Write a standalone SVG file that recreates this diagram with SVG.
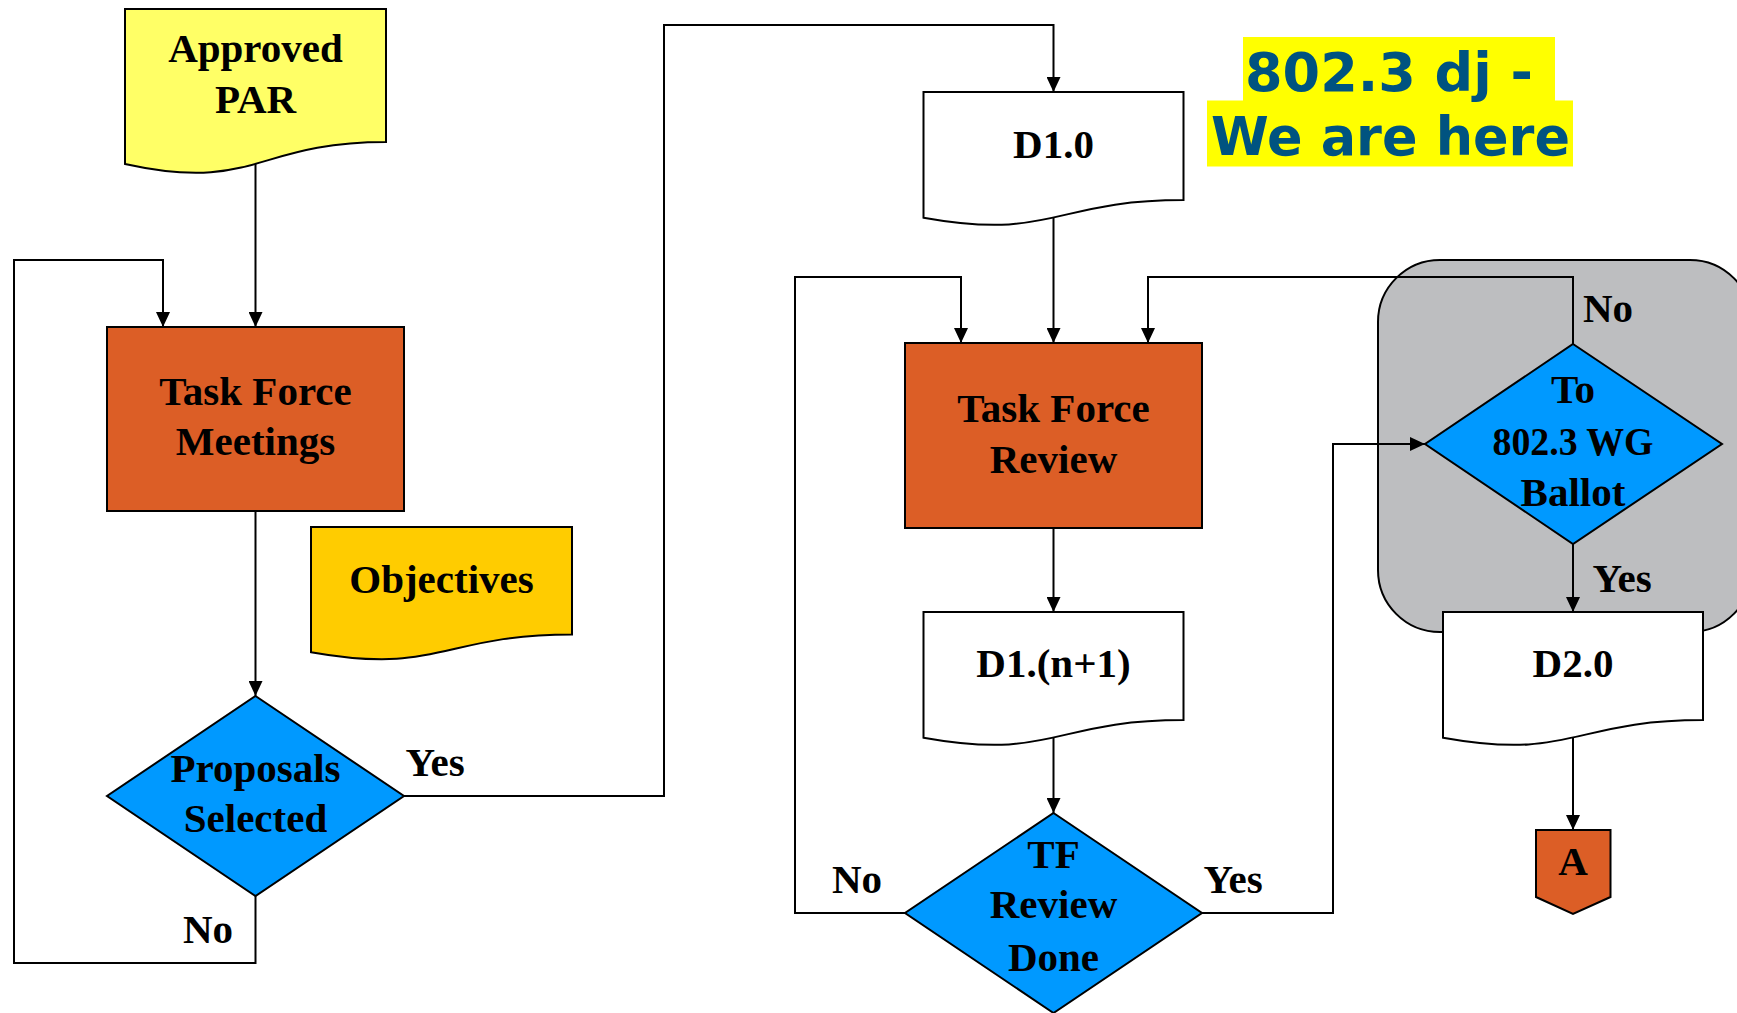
<svg xmlns="http://www.w3.org/2000/svg" width="1737" height="1013" viewBox="0 0 1737 1013">
<style>
.n{stroke:#000;stroke-width:2}
.c{fill:none;stroke:#000;stroke-width:2;marker-end:url(#arr)}
.t{font-family:"Liberation Serif","Times New Roman",serif;font-weight:bold;font-size:41px;fill:#000;text-anchor:middle}
.h{font-family:"DejaVu Sans",Verdana,sans-serif;font-weight:bold;font-size:54px;fill:#005380}
.orange{fill:#DC5E26}
.blue{fill:#0099FF}
.white{fill:#FFFFFF}
</style>
<defs>
<marker id="arr" markerWidth="15" markerHeight="14" refX="15" refY="7" orient="auto" markerUnits="userSpaceOnUse">
<path d="M0,0 L15,7 L0,14 Z" fill="#000"/>
</marker>
</defs>
<rect width="1737" height="1013" fill="#FFFFFF"/>
<g id="ballot-region">
<rect x="1378" y="260" width="374" height="372" rx="62" ry="62" fill="#BDBEC0" stroke="#000" stroke-width="2"/>
</g>
<g id="title">
<rect x="1243" y="37" width="312" height="64" fill="#FFFF00"/>
<rect x="1207" y="100.5" width="366" height="66" fill="#FFFF00"/>
<text class="h" x="1245" y="91" textLength="288" lengthAdjust="spacingAndGlyphs">802.3 dj -</text>
<text class="h" x="1211" y="155" textLength="359" lengthAdjust="spacingAndGlyphs">We are here</text>
</g>
<g id="connectors">
<path class="c" d="M255.5,164 V327"/>
<path class="c" d="M255.5,896 V963 H14 V260 H163 V327"/>
<path class="c" d="M255.5,511 V696"/>
<path class="c" d="M404,796 H664 V25 H1053.5 V92"/>
<path class="c" d="M1053.5,217.6 V343"/>
<path class="c" d="M1053.5,528 V612"/>
<path class="c" d="M1053.5,737.6 V813"/>
<path class="c" d="M905,913 H795 V277 H961 V343"/>
<path class="c" d="M1202,913 H1333 V444 H1425"/>
<path class="c" d="M1573,344 V277 H1148 V343"/>
<path class="c" d="M1573,544 V612"/>
<path class="c" d="M1573,737.6 V830"/>
</g>
<g id="label-yes-1"><text class="t" x="435" y="776">Yes</text></g>
<g id="label-no-1"><text class="t" x="208" y="943">No</text></g>
<g id="label-no-2"><text class="t" x="857" y="893">No</text></g>
<g id="label-yes-2"><text class="t" x="1233" y="893">Yes</text></g>
<g id="label-no-3"><text class="t" x="1608" y="322">No</text></g>
<g id="label-yes-3"><text class="t" x="1622" y="592">Yes</text></g>
<g id="approved-par">
<path class="n" fill="#FFFF66" d="M125,9 H386 V142.1 C255.5,142.1 255.5,192.8 125,164 Z"/>
<text class="t" x="255.5" y="62">Approved</text>
<text class="t" x="255.5" y="113">PAR</text>
</g>
<g id="task-force-meetings">
<rect class="n orange" x="107" y="327" width="297" height="184"/>
<text class="t" x="255.5" y="405">Task Force</text>
<text class="t" x="255.5" y="455">Meetings</text>
</g>
<g id="objectives">
<path class="n" fill="#FFCC00" d="M311,527 H572 V634.5 C441.5,634.5 441.5,675.3 311,652.2 Z"/>
<text class="t" x="441.5" y="593">Objectives</text>
</g>
<g id="proposals-selected">
<polygon class="n blue" points="255.5,696 404,796 255.5,896 107,796"/>
<text class="t" x="255.5" y="782">Proposals</text>
<text class="t" x="255.5" y="832">Selected</text>
</g>
<g id="d1-0">
<path class="n white" d="M923.5,92 H1183.5 V200 C1053.5,200 1053.5,241 923.5,217.7 Z"/>
<text class="t" x="1053.5" y="158">D1.0</text>
</g>
<g id="task-force-review">
<rect class="n orange" x="905" y="343" width="297" height="185"/>
<text class="t" x="1053.5" y="422">Task Force</text>
<text class="t" x="1053.5" y="473">Review</text>
</g>
<g id="d1-n1">
<path class="n white" d="M923.5,612 H1183.5 V720 C1053.5,720 1053.5,761 923.5,737.7 Z"/>
<text class="t" x="1053.5" y="677">D1.(n+1)</text>
</g>
<g id="tf-review-done">
<polygon class="n blue" points="1053.5,813 1202,913 1053.5,1013 905,913"/>
<text class="t" x="1053.5" y="868">TF</text>
<text class="t" x="1053.5" y="918">Review</text>
<text class="t" x="1053.5" y="971">Done</text>
</g>
<g id="wg-ballot">
<polygon class="n blue" points="1573,344 1722,444 1573,544 1425,444"/>
<text class="t" x="1573" y="403">To</text>
<text class="t" x="1573" y="455" textLength="161" lengthAdjust="spacingAndGlyphs">802.3 WG</text>
<text class="t" x="1573" y="506">Ballot</text>
</g>
<g id="d2-0">
<path class="n white" d="M1443,612 H1703 V720 C1573,720 1573,761 1443,737.7 Z"/>
<text class="t" x="1573" y="677">D2.0</text>
</g>
<g id="connector-a">
<path class="n orange" d="M1536,830 H1610.5 V897 L1573,914 L1536,897 Z"/>
<text class="t" x="1573" y="875">A</text>
</g>
</svg>
